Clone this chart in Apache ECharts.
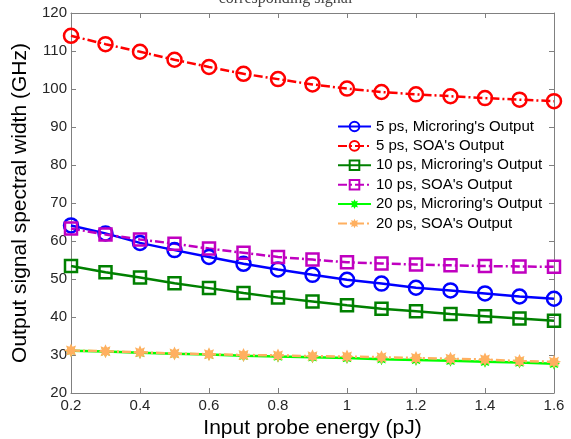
<!DOCTYPE html>
<html>
<head>
<meta charset="utf-8">
<script src="https://cdn.jsdelivr.net/npm/echarts@6/dist/echarts.min.js"></script>
<style>
  html, body { margin: 0; padding: 0; background: #fff; }
  #chart { width: 571px; height: 439px; }
</style>
</head>
<body>
<div id="chart"></div>
<script>
// input probe energy (pJ)
const energy = [0.2, 0.3, 0.4, 0.5, 0.6, 0.7, 0.8, 0.9, 1.0, 1.1, 1.2, 1.3, 1.4, 1.5, 1.6]

// spectral width (GHz)
const mr5 = [64.1, 62.0, 59.5, 57.6, 55.8, 54.0, 52.5, 51.1, 49.8, 48.8, 47.7, 47.0, 46.2, 45.4, 44.8]
const soa5 = [114.0, 111.8, 109.8, 107.7, 105.8, 104.0, 102.6, 101.2, 100.1, 99.2, 98.6, 98.1, 97.6, 97.2, 96.8]
const mr10 = [53.4, 51.8, 50.4, 48.9, 47.6, 46.3, 45.1, 44.1, 43.1, 42.2, 41.5, 40.8, 40.2, 39.6, 39.0]
const soa10 = [63.3, 61.7, 60.4, 59.3, 58.0, 56.9, 55.8, 55.1, 54.4, 54.1, 53.8, 53.6, 53.4, 53.3, 53.2]
const mr20 = [31.1, 30.9, 30.6, 30.3, 30.1, 29.8, 29.6, 29.4, 29.2, 28.9, 28.7, 28.5, 28.2, 28.0, 27.7]
const soa20 = [31.2, 31.0, 30.7, 30.4, 30.2, 30.0, 29.9, 29.7, 29.6, 29.4, 29.2, 29.0, 28.8, 28.4, 28.2]

const xTicks = ['0.2', '0.4', '0.6', '0.8', '1', '1.2', '1.4', '1.6']

// asterisk-like marker
const star = 'path://M0,-10 L2.2,-5.3 L7.1,-7.1 L5.3,-2.2 L10,0 L5.3,2.2 L7.1,7.1 L2.2,5.3 L0,10 L-2.2,5.3 L-7.1,7.1 L-5.3,2.2 L-10,0 L-5.3,-2.2 L-7.1,-7.1 L-2.2,-5.3 Z'
const dashDot = [9, 3, 2, 3]

function pairs (ys) {
  return energy.map((x, i) => [x, ys[i]])
}

function line (name, ys, color, type, symbol, size, filled) {
  return {
    name: name,
    type: 'line',
    data: pairs(ys),
    symbol: symbol,
    symbolSize: size,
    showSymbol: true,
    lineStyle: { color: color, width: 2.5, type: type },
    // hollow markers let the line show through, as in the original
    itemStyle: filled
      ? { color: color, borderWidth: 0 }
      : { color: 'rgba(255,255,255,0)', borderColor: color, borderWidth: 2.5 },
    emphasis: { disabled: true },
    animation: false
  }
}

const chart = echarts.init(document.getElementById('chart'))
const axisFont = { fontFamily: 'Liberation Sans', fontSize: 15, color: '#262626' }

chart.setOption({
  animation: false,
  textStyle: { fontFamily: 'Liberation Sans' },
  graphic: [{
    type: 'text',
    left: 'center',
    top: -9,
    style: { text: 'corresponding signal', font: '16px "Liberation Serif"', fill: '#444' }
  }],
  grid: { left: 71, right: 17, top: 13, bottom: 46, outerBoundsMode: 'none' },
  legend: {
    orient: 'vertical',
    left: 335,
    top: 117,
    itemWidth: 33,
    itemHeight: 12,
    itemGap: 4.4,
    backgroundColor: '#fff',
    padding: [2, 4, 2, 2],
    textStyle: { fontFamily: 'Liberation Sans', fontSize: 15, color: '#000' },
    data: [
      "5 ps, Microring's Output",
      "5 ps, SOA's Output",
      "10 ps, Microring's Output",
      "10 ps, SOA's Output",
      "20 ps, Microring's Output",
      "20 ps, SOA's Output"
    ]
  },
  xAxis: [{
    type: 'value',
    min: 0.2,
    max: 1.6,
    interval: 0.2,
    name: 'Input probe energy (pJ)',
    nameLocation: 'middle',
    nameGap: 25,
    nameTextStyle: { fontFamily: 'Liberation Sans', fontSize: 21, color: '#000' },
    axisLine: { lineStyle: { color: '#808080' } },
    axisTick: { inside: true, length: 5, lineStyle: { color: '#808080' } },
    axisLabel: Object.assign({ margin: 5, formatter: (v, i) => xTicks[i] }, axisFont),
    splitLine: { show: false }
  }, {
    type: 'value',
    position: 'top',
    min: 0.2,
    max: 1.6,
    interval: 0.2,
    axisLine: { show: true, lineStyle: { color: '#808080' } },
    axisTick: { show: true, inside: true, length: 5, lineStyle: { color: '#808080' } },
    axisLabel: { show: false },
    splitLine: { show: false }
  }],
  yAxis: [{
    type: 'value',
    min: 20,
    max: 120,
    interval: 10,
    name: 'Output signal spectral width (GHz)',
    nameLocation: 'middle',
    nameGap: 33,
    nameTextStyle: { fontFamily: 'Liberation Sans', fontSize: 21, color: '#000' },
    axisLine: { show: true, lineStyle: { color: '#808080' } },
    axisTick: { show: true, inside: true, length: 5, lineStyle: { color: '#808080' } },
    axisLabel: Object.assign({ margin: 4 }, axisFont),
    splitLine: { show: false }
  }, {
    type: 'value',
    position: 'right',
    min: 20,
    max: 120,
    interval: 10,
    axisLine: { show: true, lineStyle: { color: '#808080' } },
    axisTick: { show: true, inside: true, length: 5, lineStyle: { color: '#808080' } },
    axisLabel: { show: false },
    splitLine: { show: false }
  }],
  series: [
    line("5 ps, Microring's Output", mr5, '#0000ff', 'solid', 'circle', 14, false),
    line("5 ps, SOA's Output", soa5, '#ff0000', dashDot, 'circle', 14, false),
    line("10 ps, Microring's Output", mr10, '#008000', 'solid', 'rect', 12, false),
    line("10 ps, SOA's Output", soa10, '#c000c0', dashDot, 'rect', 12, false),
    line("20 ps, Microring's Output", mr20, '#00ff00', 'solid', star, 12, true),
    line("20 ps, SOA's Output", soa20, '#ffb060', dashDot, star, 14, true)
  ]
})
</script>
</body>
</html>
